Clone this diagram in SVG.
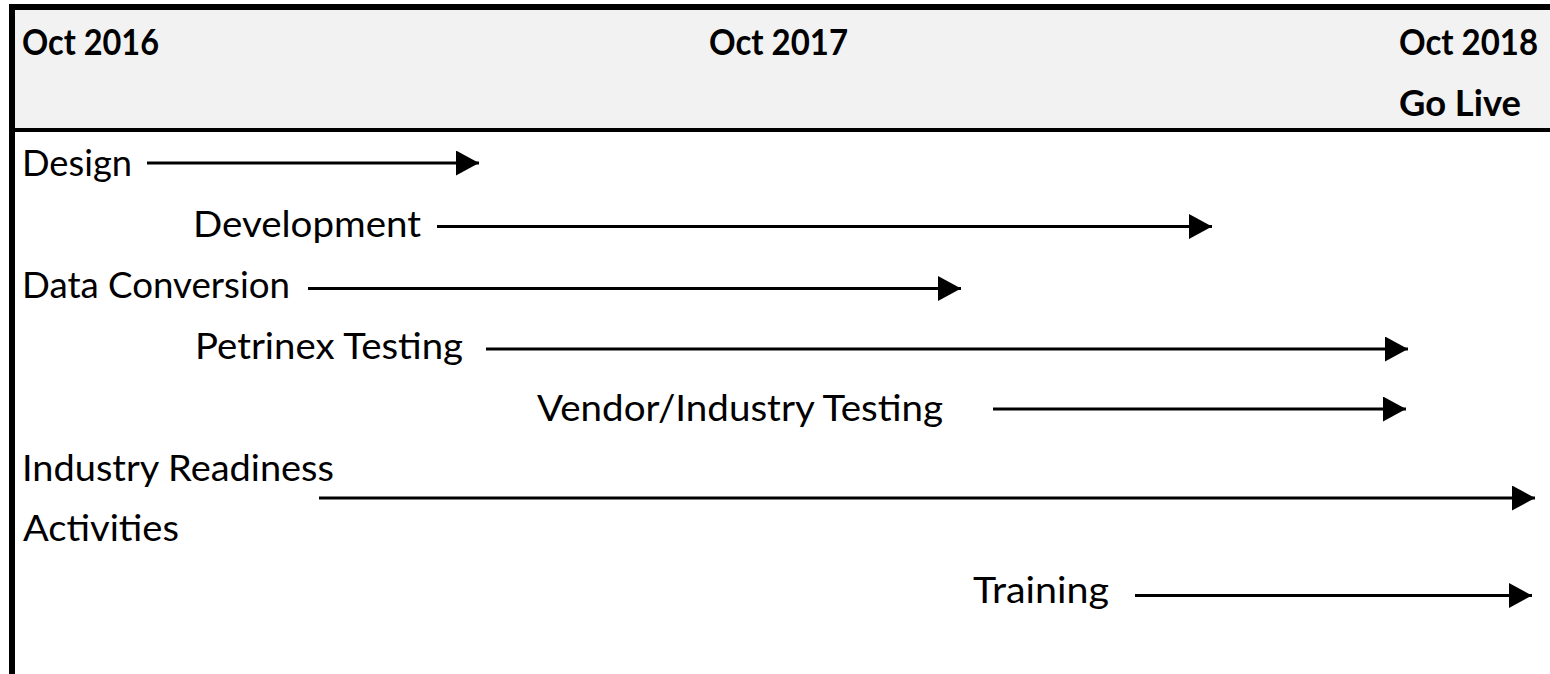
<svg xmlns="http://www.w3.org/2000/svg" width="1550" height="674" viewBox="0 0 1550 674">
<style>
  text { font-family: "Lato", "Open Sans", "Liberation Sans", sans-serif; font-size: 36px; fill: #000; }
  .hdr { font-weight: bold; }
  .arrow { stroke: #000; stroke-width: 3; fill: none; marker-end: url(#head); }
</style>
<defs>
  <marker id="head" markerUnits="userSpaceOnUse" markerWidth="24" markerHeight="26" refX="23" refY="12.5" orient="auto">
    <path d="M0,0 L23,12.5 L0,25 Z" fill="#000"/>
  </marker>
</defs>
<rect x="0" y="0" width="1550" height="674" fill="#fff"/>
<g id="header">
  <rect x="15" y="10" width="1535" height="118" fill="#f2f2f2"/>
  <rect x="9" y="4" width="1541" height="6" fill="#000"/>
  <rect x="9" y="4" width="6" height="670" fill="#000"/>
  <rect x="15" y="128" width="1535" height="4" fill="#000"/>
  <text class="hdr" x="22" y="55" textLength="137" lengthAdjust="spacingAndGlyphs">Oct 2016</text>
  <text class="hdr" x="709" y="55" textLength="139" lengthAdjust="spacingAndGlyphs">Oct 2017</text>
  <text class="hdr" x="1399" y="55" textLength="139" lengthAdjust="spacingAndGlyphs">Oct 2018</text>
  <text class="hdr" x="1399" y="116" textLength="122" lengthAdjust="spacingAndGlyphs">Go Live</text>
</g>
<g id="design"><text x="22" y="176" textLength="110" lengthAdjust="spacingAndGlyphs">Design</text></g>
<g id="development"><text x="193" y="237" textLength="228" lengthAdjust="spacingAndGlyphs">Development</text></g>
<g id="data-conversion"><text x="22" y="298" textLength="268" lengthAdjust="spacingAndGlyphs">Data Conversion</text></g>
<g id="petrinex-testing"><text x="195" y="359" textLength="268" lengthAdjust="spacingAndGlyphs">Petrinex Testing</text></g>
<g id="vendor-testing"><text x="537" y="421" textLength="406" lengthAdjust="spacingAndGlyphs">Vendor/Industry Testing</text></g>
<g id="industry-readiness">
  <text x="22" y="481" textLength="312" lengthAdjust="spacingAndGlyphs">Industry Readiness</text>
  <text x="23" y="541" textLength="156" lengthAdjust="spacingAndGlyphs">Activities</text>
</g>
<g id="training"><text x="973" y="603" textLength="136" lengthAdjust="spacingAndGlyphs">Training</text></g>
<g id="connectors">
  <line class="arrow" x1="147" y1="163" x2="479" y2="163"/>
  <line class="arrow" x1="437" y1="226.5" x2="1212" y2="226.5"/>
  <line class="arrow" x1="308" y1="288.5" x2="961" y2="288.5"/>
  <line class="arrow" x1="486" y1="349" x2="1408" y2="349"/>
  <line class="arrow" x1="993" y1="409" x2="1406" y2="409"/>
  <line class="arrow" x1="319" y1="498" x2="1535" y2="498"/>
  <line class="arrow" x1="1135" y1="595.5" x2="1532" y2="595.5"/>
</g>
</svg>
